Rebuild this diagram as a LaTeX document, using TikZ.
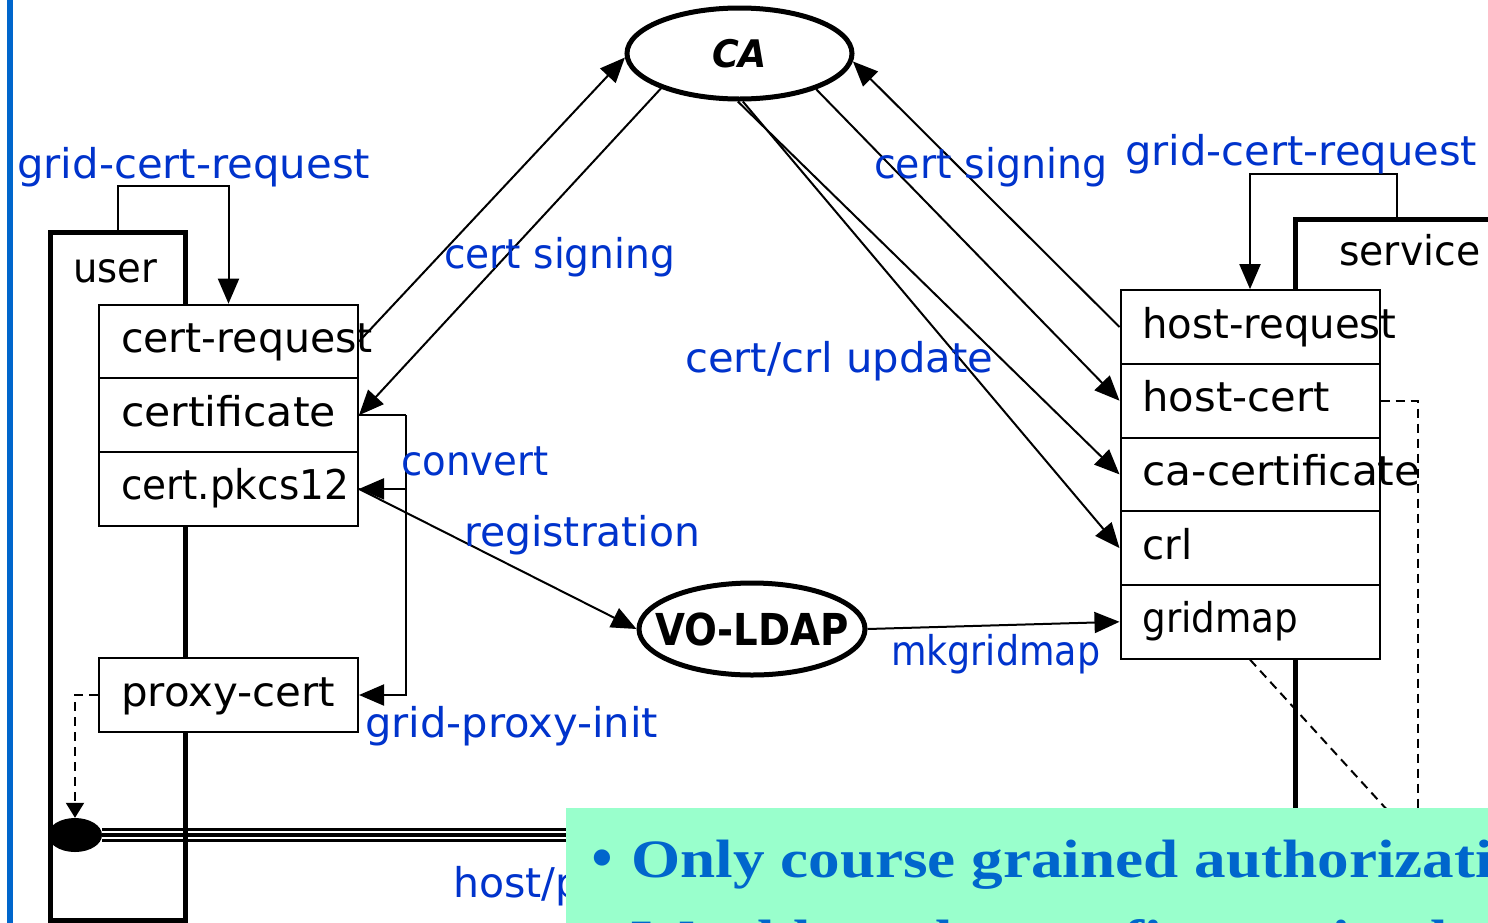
\documentclass[tikz,border=0pt]{standalone}
\usepackage{fontspec}
\setmainfont{DejaVu Sans}
\newfontfamily\slidefont{Liberation Serif}
\usetikzlibrary{arrows.meta,shapes.geometric,calc}

\definecolor{lblue}{RGB}{0,51,204}
\definecolor{barblue}{RGB}{0,102,204}
\definecolor{notefill}{RGB}{153,255,204}

% set a word to a given width, keeping its height
\newcommand{\fitto}[2]{\resizebox{#1}{\height}{#2}}
% left-aligned file name inside a file box
\newcommand{\fname}[2]{\makebox[215pt][l]{\fitto{#1}{#2}}}

\tikzset{
  fnt/.style={font=\fontsize{41}{45}\selectfont},
  host/.style={draw, line width=5pt, rectangle, inner sep=0pt},
  filebox/.style={draw, line width=2pt, fill=white, rectangle,
    inner xsep=22pt, inner ysep=0pt,
    minimum height=73.7pt, text height=30pt, text depth=8pt, fnt},
  oval/.style={draw, ellipse, line width=5pt, fill=white, inner sep=0pt},
  arr/.style={line width=2pt, -{Triangle[length=25pt,width=21pt]}},
  dsh/.style={line width=2pt, dash pattern=on 9pt off 6pt},
  lbl/.style={fnt, text=lblue, anchor=base west, inner sep=0pt},
  blk/.style={fnt, text=black, anchor=base west, inner sep=0pt},
  notetext/.style={font=\slidefont\bfseries\fontsize{54}{58}\selectfont,
    text=barblue, anchor=base west, inner sep=0pt},
}

\begin{document}
\begin{tikzpicture}[x=1pt,y=-1pt]
\useasboundingbox (0,0) rectangle (1488,922);
\clip (0,0) rectangle (1488,922);
\fill[white] (0,0) rectangle (1488,922);

% slide margin bar
\draw[barblue, line width=6pt] (10,-5) -- (10,930);

% proxy delegation bus
\node[fill=black, ellipse, minimum width=54pt, minimum height=34pt, inner sep=0pt] (dot) at (75,835) {};
\coordinate (busend) at (640,835);
\draw[line width=14.5pt] (dot.east) -- (busend);
\draw[white, line width=2.2pt] ($(dot.east)+(0,-3.2)$) -- ($(busend)+(0,-3.2)$);
\draw[white, line width=2.2pt] ($(dot.east)+(0,3)$) -- ($(busend)+(0,3)$);

% user and service hosts
\node[host, minimum width=135pt, minimum height=688pt] (user) at (117.5,576) {};
\node[host, minimum width=400pt, minimum height=800pt, anchor=north west] (service) at (1293,217) {};
\node[blk] (userlbl) at (73,282) {\fitto{84pt}{user}};
\node[blk] (servicelbl) at (1339,265) {\fitto{141pt}{service}};

% user files
\node[filebox] (certreq) at (228.5,341.5) {\fname{252pt}{cert-request}};
\node[filebox] (cert) at (228.5,415.2) {\fname{215pt}{certificate}};
\node[filebox] (pkcs) at (228.5,488.9) {\fname{228pt}{cert.pkcs12}};
\node[filebox] (proxy) at (228.5,695) {\fname{214pt}{proxy-cert}};

% service files
\node[filebox] (hreq) at (1250,327) {\fname{254pt}{host-request}};
\node[filebox] (hcert) at (1250,400.7) {\fname{187pt}{host-cert}};
\node[filebox] (cacert) at (1250,474.4) {\fname{278pt}{ca-certificate}};
\node[filebox] (crl) at (1250,548.1) {\fname{50pt}{crl}};
\node[filebox] (gmap) at (1250,621.8) {\fname{156pt}{gridmap}};

% dashed usage links
\draw[dsh, -{Triangle[length=15pt,width=18pt]}] (proxy.west) -| (dot.north);
\draw[dsh] (hcert.east) -- ++(37,0) -- ++(0,520);
\draw[dsh] (gmap.south) -- ++(230,252);

% authorities
\node[oval, minimum width=225pt, minimum height=91pt,
      font=\fontsize{38}{40}\selectfont\bfseries\itshape] (CA) at (739.5,53.5)
      {\makebox[0pt][c]{\raisebox{-13.5pt}[0pt][0pt]{\fitto{55pt}{CA}}}};
\node[oval, minimum width=226pt, minimum height=92pt,
      font=\fontsize{44}{48}\selectfont\bfseries] (vo) at (752,629)
      {\makebox[0pt][c]{\raisebox{-16pt}[0pt][0pt]{\fitto{194pt}{VO-LDAP}}}};

% certificate signing
\draw[arr] (certreq.east) -- (CA.182);
\draw[arr] (CA.204) -- (cert.east);
\draw[arr] (hreq.west) -- (CA.356);
\draw[arr] (CA.335) -- (hcert.west);
\draw[arr] (CA.268) -- (cacert.west);
\draw[arr] (CA.274) -- (crl.west);

% requests
\draw[arr] (user.north) -- ++(0,-44) -| (certreq.north);
\draw[arr] ($(service.north west)+(104,0)$) -- ++(0,-43) -| (hreq.north);

% conversion and proxy creation
\coordinate (cvx) at (406,415.2);
\draw[line width=2pt] (cert.east) -- (cvx);
\draw[arr] (cvx) |- (proxy.east);
\draw[arr] (cvx |- pkcs.east) -- (pkcs.east);

% registration and gridmap generation
\draw[arr] (pkcs.east) -- (vo.west);
\draw[arr] (vo.east) -- (gmap.west);

% operation labels
\node[lbl] (l-gcr1) at (17,178) {\fitto{353pt}{grid-cert-request}};
\node[lbl] (l-gcr2) at (1125,165) {\fitto{352pt}{grid-cert-request}};
\node[lbl] (l-sign1) at (444,268) {\fitto{231pt}{cert signing}};
\node[lbl] (l-sign2) at (874,178) {\fitto{233pt}{cert signing}};
\node[lbl] (l-upd) at (685,372) {\fitto{308pt}{cert/crl update}};
\node[lbl] (l-conv) at (401,475) {\fitto{147pt}{convert}};
\node[lbl] (l-reg) at (464,546) {\fitto{236pt}{registration}};
\node[lbl] (l-mkg) at (891,665) {\fitto{209pt}{mkgridmap}};
\node[lbl] (l-gpi) at (365,737) {\fitto{293pt}{grid-proxy-init}};
\node[lbl] (l-hp) at (453,897) {host/p};

% note panel
\node[fill=notefill, anchor=north west, minimum width=930pt, minimum height=130pt, inner sep=0pt] (note) at (566,808) {};
\node[font=\slidefont\fontsize{68}{70}\selectfont, text=barblue, anchor=base west, inner sep=0pt] (b1) at (590,880) {•};
\node[notetext] (n1) at (631,877) {\scalebox{1.17}[1]{Only course grained authorization}};
\node[font=\slidefont\fontsize{68}{70}\selectfont, text=barblue, anchor=base west, inner sep=0pt] (b2) at (590,961) {•};
\node[notetext] (n2) at (631,957) {\scalebox{1.17}[1]{Would need more fine grained control}};
\end{tikzpicture}
\end{document}
